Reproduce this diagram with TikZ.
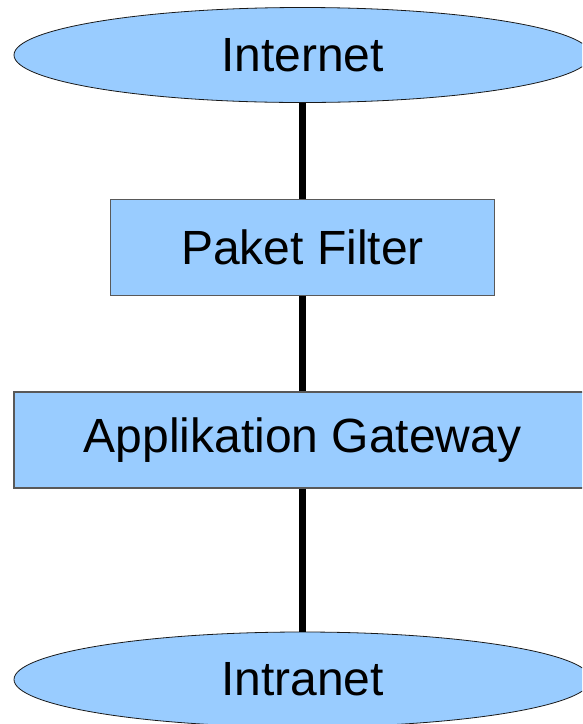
\documentclass[tikz,border=0pt]{standalone}
\usepackage{fontspec}
\setmainfont{Liberation Sans}
\usepackage{tikz}
\usetikzlibrary{shapes.geometric}
\definecolor{lightblue}{HTML}{99CCFF}

\begin{document}
\begin{tikzpicture}[x=1pt, y=-1pt, font=\fontsize{48}{58}\selectfont,
    net/.style = {draw=black!90, line width=0.8pt, ellipse, fill=lightblue, minimum width=577pt, minimum height=95pt, inner sep=0pt},
    main/.style = {draw=black!65, line width=1.1pt, rectangle, fill=lightblue, minimum height=96pt, inner sep=0pt},
    link/.style = {line width=6.5pt}]
    \useasboundingbox (0, 0) rectangle (582, 724);
    \clip (0, 0) rectangle (582, 724);

	\node [net] (0) at (302.5, 55) {Internet};
	\node [main, minimum width=384pt] (1) at (302.5, 247.5) {Paket Filter};
	\node [main, minimum width=577pt] (2) at (302.5, 440) {Applikation Gateway};
	\node [net] (3) at (302.5, 679.5) {Intranet};

    \draw[link] (1.north) -- (0.south);
    \draw[link] (1.south) -- (2.north);
    \draw[link] (2.south) -- (3.north);

\end{tikzpicture}
\end{document}
